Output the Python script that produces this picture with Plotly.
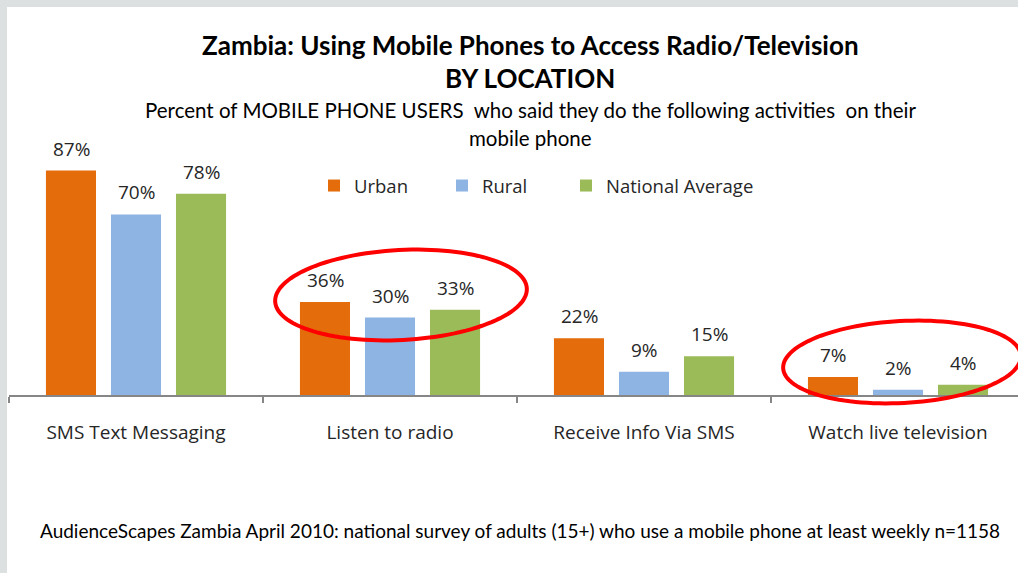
import math
import plotly.graph_objects as go

# --- data -------------------------------------------------------------
categories = ["SMS Text Messaging", "Listen to radio", "Receive Info Via SMS", "Watch live television"]
urban = [87, 36, 22, 7]
rural = [70, 30, 9, 2]
national = [78, 33, 15, 4]

series_names = ["Urban", "Rural", "National Average"]
series_colors = ["#E46C0A", "#8EB4E3", "#9BBB59"]

W, H = 1018, 573
ML, MR, MT, MB = 9, 0, 140, 178
PW = W - ML - MR
PH = H - MT - MB
CAT_PX = 254.0           # pixel width of one category slot
YMAX = PH / 2.58          # ~2.58 px per percentage point

x_hi = -0.5 + PW / CAT_PX

label_font = "Open Sans, DejaVu Sans, sans-serif"
calibri_like = "Lato, Carlito, sans-serif"


def px_to_paper(X, Y):
    return (X - ML) / PW, (H - MB - Y) / PH


fig = go.Figure()
legend_ids = ["legend", "legend2", "legend3"]
legend_left_px = [314, 442, 566]
for name, vals, col, lg in zip(series_names, [urban, rural, national], series_colors, legend_ids):
    fig.add_trace(go.Bar(
        x=categories, y=vals, name=name, legend=lg,
        marker=dict(color=col, line=dict(width=0)),
    ))

legend_layout = {}
for lg, lx in zip(legend_ids, legend_left_px):
    legend_layout[lg] = dict(
        orientation="h", x=px_to_paper(lx, 0)[0], xanchor="left",
        y=px_to_paper(0, 186)[1], yanchor="middle",
        font=dict(family=label_font, size=18.5, color="#262626"),
        bgcolor="rgba(0,0,0,0)", itemwidth=30,
    )

annotations = []
# value labels above each bar
for i, vals in enumerate([urban, rural, national]):
    for c, v in zip(categories, vals):
        annotations.append(dict(
            x=c, y=v, xref="x", yref="y", text=f"{v}%", showarrow=False,
            xshift=(i - 1) * 65, yshift=22, yanchor="middle",
            font=dict(family=label_font, size=19, color="#262626"),
        ))

# headings and footnote
for txt, y, size, bold in [
    ("Zambia: Using Mobile Phones to Access Radio/Television", 45, 26, True),
    ("BY LOCATION", 78, 26, True),
    ("Percent of MOBILE PHONE USERS  who said they do the following activities  on their", 110, 20.5, False),
    ("mobile phone", 138, 20.5, False),
]:
    px, py = px_to_paper(530, y)
    annotations.append(dict(
        x=px, y=py, xref="paper", yref="paper", showarrow=False,
        text=f"<b>{txt}</b>" if bold else txt, xanchor="center", yanchor="middle",
        font=dict(family=calibri_like, size=size, color="#000000"),
    ))
px, py = px_to_paper(520, 530)
annotations.append(dict(
    x=px, y=py, xref="paper", yref="paper", showarrow=False,
    text="AudienceScapes Zambia April 2010: national survey of adults (15+) who use a mobile phone at least weekly n=1158",
    xanchor="center", yanchor="middle",
    font=dict(family=calibri_like, size=19, color="#000000"),
))


def ellipse_path(cx, cy, rx, ry, angle_deg, n=120):
    a = math.radians(angle_deg)
    pts = []
    for k in range(n + 1):
        t = 2 * math.pi * k / n
        ex, ey = rx * math.cos(t), ry * math.sin(t)
        X = cx + ex * math.cos(a) - ey * math.sin(a)
        Y = cy + ex * math.sin(a) + ey * math.cos(a)
        pts.append(px_to_paper(X, Y))
    return "M " + " L ".join(f"{p[0]:.5f},{p[1]:.5f}" for p in pts) + " Z"


shapes = []
# gray frame strips at the top and left edge
x0, ytop = px_to_paper(0, 0)
x7, _ = px_to_paper(7, 0)
_, y7 = px_to_paper(0, 7)
_, ybot = px_to_paper(0, H)
x1, _ = px_to_paper(W, 0)
shapes.append(dict(type="rect", xref="paper", yref="paper", x0=x0, x1=x1, y0=y7, y1=ytop,
                   fillcolor="#DDE0E0", line=dict(width=0), layer="below"))
shapes.append(dict(type="rect", xref="paper", yref="paper", x0=x0, x1=x7, y0=ybot, y1=ytop,
                   fillcolor="#DDE0E0", line=dict(width=0), layer="below"))

# red highlight ellipses
shapes.append(dict(type="path", xref="paper", yref="paper",
                   path=ellipse_path(401, 295, 126, 45, -3),
                   line=dict(color="#FF0000", width=4)))
shapes.append(dict(type="path", xref="paper", yref="paper",
                   path=ellipse_path(902, 362, 119, 41, -3),
                   line=dict(color="#FF0000", width=4)))

fig.update_layout(
    width=W, height=H,
    margin=dict(l=ML, r=MR, t=MT, b=MB, pad=0),
    paper_bgcolor="#FFFFFF", plot_bgcolor="#FFFFFF",
    barmode="group", bargap=0.232, bargroupgap=0.23,
    showlegend=True,
    xaxis=dict(
        range=[-0.5, x_hi], showgrid=False, zeroline=False,
        showline=True, linecolor="#868686", linewidth=1.5,
        ticks="outside", tickson="boundaries", ticklen=6, tickcolor="#868686", tickwidth=1.5,
        ticklabelstandoff=19,
        tickfont=dict(family=label_font, size=19, color="#262626"),
    ),
    yaxis=dict(range=[0, YMAX], visible=False, fixedrange=True),
    annotations=annotations,
    shapes=shapes,
    **legend_layout,
)

fig.write_html("out.html")
